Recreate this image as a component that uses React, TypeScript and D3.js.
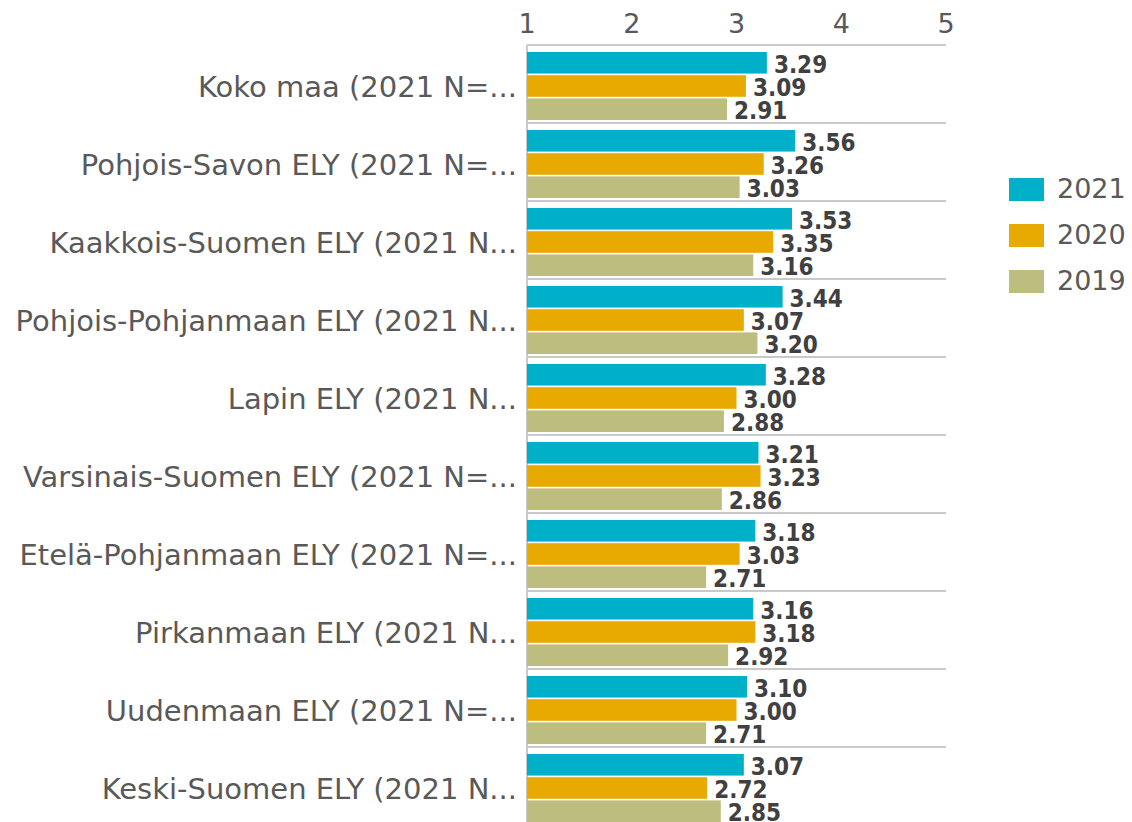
import React from 'react';
import * as d3 from 'd3';

const categories = [
  'Koko maa (2021 N=...',
  'Pohjois-Savon ELY (2021 N=...',
  'Kaakkois-Suomen ELY (2021 N...',
  'Pohjois-Pohjanmaan ELY (2021 N...',
  'Lapin ELY (2021 N...',
  'Varsinais-Suomen ELY (2021 N=...',
  'Etelä-Pohjanmaan ELY (2021 N=...',
  'Pirkanmaan ELY (2021 N...',
  'Uudenmaan ELY (2021 N=...',
  'Keski-Suomen ELY (2021 N...',
];
const seriesNames = ['2021', '2020', '2019'];
const values2021 = [3.29, 3.56, 3.53, 3.44, 3.28, 3.21, 3.18, 3.16, 3.1, 3.07];
const values2020 = [3.09, 3.26, 3.35, 3.07, 3.0, 3.23, 3.03, 3.18, 3.0, 2.72];
const values2019 = [2.91, 3.03, 3.16, 3.2, 2.88, 2.86, 2.71, 2.92, 2.71, 2.85];
const xTicks = [1, 2, 3, 4, 5];
const colors = ['#00b0c9', '#e8a900', '#bdbd80'];

const FONT = '"DejaVu Sans", Verdana, sans-serif';
const FONT_COND = '"DejaVu Sans Condensed", "DejaVu Sans", sans-serif';

export default function App() {
  const width = 1132;
  const height = 822;
  const left = 527;
  const right = 946;
  const top = 45;
  const groupH = 78;

  const seriesValues = [values2021, values2020, values2019];

  const x = d3.scaleLinear().domain([1, 5]).range([left, right]);
  const y0 = d3
    .scaleBand<string>()
    .domain(categories)
    .range([top, top + groupH * categories.length])
    .padding(0);
  const y1 = d3
    .scaleBand<string>()
    .domain(seriesNames)
    .range([7, 75])
    .paddingInner(0.07);

  const bounds = categories.map((c) => y0(c) as number);
  bounds.push(top + groupH * categories.length);

  return (
    <svg width={width} height={height} style={{ position: 'absolute', left: 0, top: 0 }}>
      <rect width={width} height={height} fill="#ffffff" />
      {/* gridlines between groups */}
      {bounds.map((b, i) => (
        <line key={'g' + i} x1={left} x2={right} y1={b} y2={b} stroke="#c9c9c9" strokeWidth={2} />
      ))}
      <line x1={left} x2={left} y1={top} y2={height} stroke="#c9c9c9" strokeWidth={2} />
      {/* x ticks */}
      {xTicks.map((t) => (
        <text
          key={'t' + t}
          x={x(t)}
          y={33}
          textAnchor="middle"
          fontFamily={FONT}
          fontSize={27}
          fill="#595959"
        >
          {t}
        </text>
      ))}
      {categories.map((c, ci) => {
        const gy = y0(c) as number;
        return (
          <g key={c}>
            <text
              x={517}
              y={gy + 52}
              textAnchor="end"
              fontFamily={FONT}
              fontSize={29}
              fill="#595959"
            >
              {c}
            </text>
            {seriesNames.map((s, si) => {
              const v = seriesValues[si][ci];
              const by = gy + (y1(s) as number);
              const bh = y1.bandwidth();
              return (
                <g key={s}>
                  <rect x={x(1)} y={by} width={x(v) - x(1)} height={bh} fill={colors[si]} />
                  <text
                    x={x(v) + 7}
                    y={by + bh - 1}
                    fontFamily={FONT_COND}
                    fontWeight="bold"
                    fontSize={24}
                    fill="#404040"
                  >
                    {v.toFixed(2)}
                  </text>
                </g>
              );
            })}
          </g>
        );
      })}
      {/* legend */}
      {seriesNames.map((s, si) => (
        <g key={'l' + s} transform={`translate(1009, ${178 + si * 46})`}>
          <rect width={35} height={23} fill={colors[si]} />
          <text
            x={48}
            y={12.5}
            dominantBaseline="middle"
            fontFamily={FONT}
            fontSize={27}
            fill="#595959"
          >
            {s}
          </text>
        </g>
      ))}
    </svg>
  );
}
